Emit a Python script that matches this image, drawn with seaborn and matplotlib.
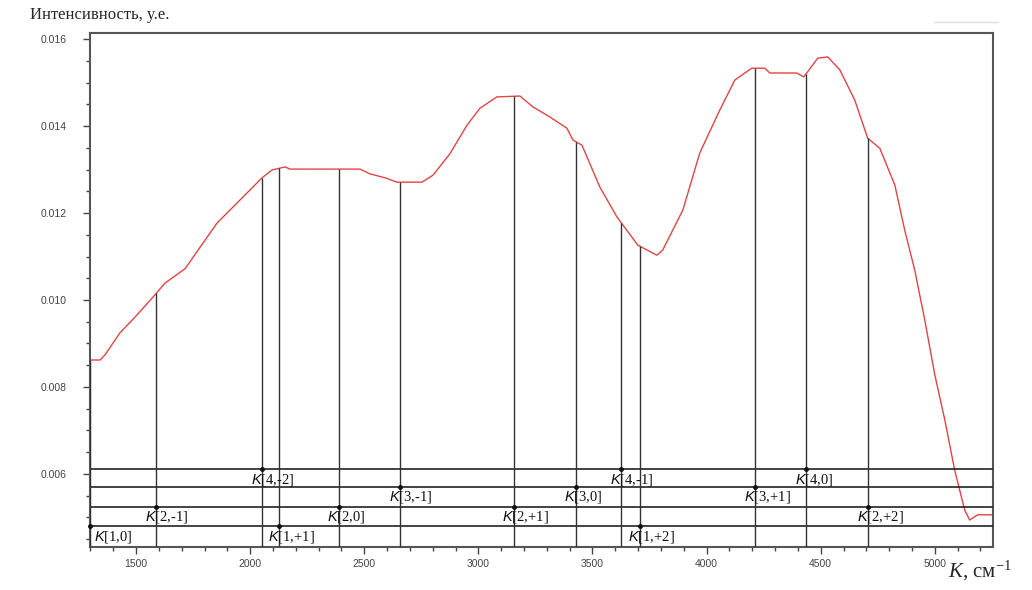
import numpy as np
import pandas as pd
import matplotlib
matplotlib.use('Agg')
import matplotlib.pyplot as plt
import seaborn as sns
from matplotlib.ticker import MultipleLocator

# Spectrum (wavenumber, intensity)
wavenumber = [1298, 1342, 1364, 1430, 1496, 1583, 1627, 1715, 1772, 1855,
              1969, 2052, 2096, 2153, 2175, 2481, 2525, 2591, 2643, 2753,
              2801, 2875, 2950, 3007, 3081, 3182, 3239, 3313, 3388, 3414,
              3454, 3532, 3607, 3699, 3782, 3808, 3896, 3970, 4058, 4124,
              4198, 4255, 4277, 4395, 4426, 4487, 4531, 4584, 4649, 4706,
              4759, 4825, 4868, 4912, 4956, 5000, 5044, 5087, 5131, 5153,
              5188, 5254]
intensity = [0.00862, 0.00862, 0.00874, 0.00925, 0.00961, 0.01012, 0.01039, 0.01072, 0.01115, 0.01177,
             0.01237, 0.01281, 0.01299, 0.01306, 0.01301, 0.01301, 0.01290, 0.01281, 0.01271, 0.01271,
             0.01287, 0.01336, 0.01402, 0.01441, 0.01467, 0.01469, 0.01444, 0.01421, 0.01395, 0.01368,
             0.01356, 0.01260, 0.01191, 0.01126, 0.01103, 0.01115, 0.01207, 0.01338, 0.01437, 0.01506,
             0.01533, 0.01533, 0.01522, 0.01522, 0.01513, 0.01556, 0.01559, 0.01529, 0.01460, 0.01372,
             0.01349, 0.01264, 0.01161, 0.01069, 0.00954, 0.00828, 0.00724, 0.00609, 0.00517, 0.00494,
             0.00506, 0.00506]

# Marked combination bands K[n,m]
band_n = [1, 2, 4, 1, 2, 3, 2, 3, 4, 1, 3, 4, 2]
band_m = ["0", "-1", "-2", "+1", "0", "-1", "+1", "0", "-1", "+2", "+1", "0", "+2"]
band_pos = [1298, 1588, 2053, 2127, 2387, 2658, 3154, 3426, 3627, 3706, 4211, 4435, 4706]

# Level of the horizontal guide line for each n
level_n = [1, 2, 3, 4]
level_y = [0.0048, 0.00525, 0.00571, 0.00611]

df = pd.DataFrame({"k": wavenumber, "i": intensity})

sns.set_style("white")
plt.rcParams['font.family'] = ['Liberation Serif', 'DejaVu Serif']
plt.rcParams['mathtext.fontset'] = 'custom'
plt.rcParams['mathtext.rm'] = 'Liberation Serif'
plt.rcParams['mathtext.it'] = 'Liberation Serif:italic'
plt.rcParams['mathtext.sf'] = 'Liberation Sans:italic'

fig = plt.figure(figsize=(10.32, 5.90), dpi=100)
ax = fig.add_axes([0.0872, 0.0729, 0.875, 0.8712])

xlim = (1298, 5255)
ylim = (0.00432, 0.01614)
ax.set_xlim(*xlim)
ax.set_ylim(*ylim)

sns.lineplot(data=df, x="k", y="i", ax=ax, color="#e04444", lw=1.0)

# horizontal guide lines
for y in level_y:
    ax.axhline(y, color="#222222", lw=1.2, zorder=3)

# vertical lines from curve down to the axis, dots and labels
tops = np.interp(band_pos, wavenumber, intensity)
ax.vlines(band_pos, ylim[0], tops, color="#333333", lw=1.0, zorder=3)
lev = dict(zip(level_n, level_y))
for n, m, x in zip(band_n, band_m, band_pos):
    y = lev[n]
    ax.plot(x, y, 'o', ms=2.5, color="#111111", zorder=4, clip_on=False)
    dx = 3 if x <= xlim[0] + 10 else -8
    ax.annotate(r"$\mathsf{K}$" + f"[{n},{m}]", (x, y), xytext=(dx, -2),
                textcoords="offset points", ha="left", va="top",
                fontsize=10.5, color="#111111", zorder=5)

# ticks
ax.xaxis.set_major_locator(MultipleLocator(500))
ax.xaxis.set_minor_locator(MultipleLocator(100))
ax.yaxis.set_major_locator(MultipleLocator(0.002))
ax.yaxis.set_minor_locator(MultipleLocator(0.0005))
ax.yaxis.set_major_formatter(matplotlib.ticker.FormatStrFormatter('%.3f'))
ax.tick_params(which='both', direction='out', color='#444444', labelcolor='#444444',
               labelsize=7.5, bottom=True, left=True)
ax.tick_params(which='major', length=5, width=1)
ax.tick_params(which='minor', length=3, width=1)
ax.tick_params(axis='y', which='major', pad=12)
for lab in ax.get_xticklabels() + ax.get_yticklabels():
    lab.set_family('Liberation Sans')
ax.set_xlabel("")
ax.set_ylabel("")

for s in ax.spines.values():
    s.set_color("#555555")
    s.set_linewidth(1.5)

fig.text(0.029, 0.975, "Интенсивность, у.е.", fontsize=12, va="center", ha="left")
fig.text(0.919, 0.033, r"$K$, см$^{-1}$", fontsize=15, va="center", ha="left")
fig.add_artist(plt.Line2D([0.905, 0.967], [0.962, 0.962], color="#dddddd", lw=1,
                          transform=fig.transFigure))

fig.savefig("out.png", dpi=100)
